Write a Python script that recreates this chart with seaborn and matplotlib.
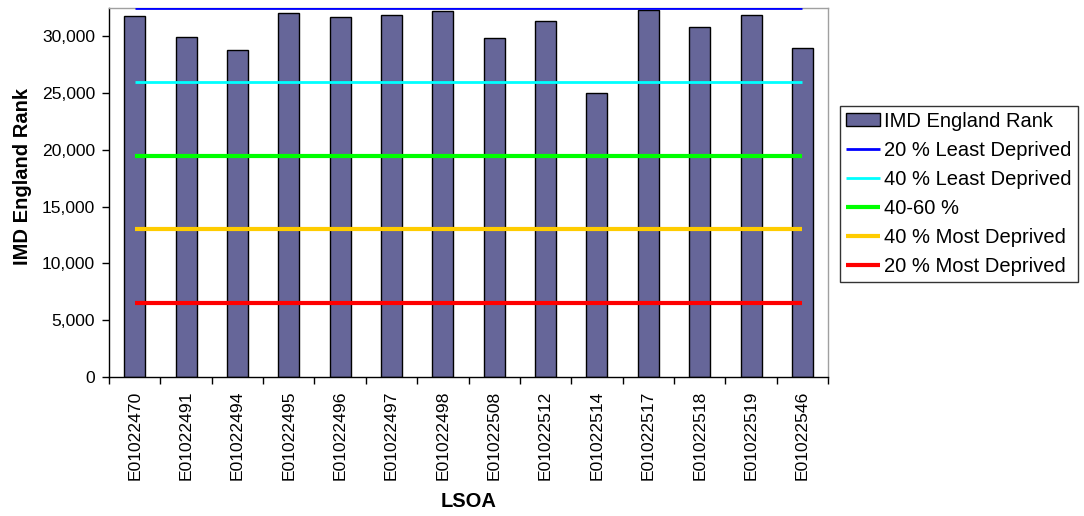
import matplotlib
matplotlib.use("Agg")
import matplotlib.pyplot as plt
import seaborn as sns
import numpy as np
import pandas as pd
from matplotlib.ticker import FuncFormatter, FixedLocator

# ---- data ----
lsoa = ["E01022470", "E01022491", "E01022494", "E01022495", "E01022496",
        "E01022497", "E01022498", "E01022508", "E01022512", "E01022514",
        "E01022517", "E01022518", "E01022519", "E01022546"]
imd_rank = [31760, 29910, 28770, 32030, 31650, 31850, 32200,
            29820, 31360, 25040, 32330, 30770, 31850, 28980]
threshold_labels = ["20 % Least Deprived", "40 % Least Deprived", "40-60 %",
                    "40 % Most Deprived", "20 % Most Deprived"]
threshold_values = [32482, 25986, 19489, 12993, 6496]
threshold_colors = ["#0000FF", "#00FFFF", "#00FF00", "#FFCC00", "#FF0000"]
threshold_widths = [2.0, 2.0, 3.0, 3.0, 3.0]

sns.set_theme(style="white")
plt.rcParams["font.family"] = ["Liberation Sans", "DejaVu Sans"]
plt.rcParams["text.color"] = "black"
plt.rcParams["axes.labelcolor"] = "black"
plt.rcParams["xtick.color"] = "black"
plt.rcParams["ytick.color"] = "black"

fig = plt.figure(figsize=(10.84, 5.16), dpi=100)
ax = fig.add_axes([0.1006, 0.2694, 0.6633, 0.7151])

df = pd.DataFrame({"LSOA": lsoa, "Rank": imd_rank})
sns.barplot(data=df, x="LSOA", y="Rank", color="#666699", saturation=1,
            width=0.41, edgecolor="black", linewidth=1.0, ax=ax,
            label="IMD England Rank", zorder=2, legend=False)

pos = np.arange(len(lsoa))
for lab, val, col, lw in zip(threshold_labels, threshold_values,
                             threshold_colors, threshold_widths):
    ax.plot(pos, [val] * len(lsoa), color=col, lw=lw, label=lab, zorder=3,
            solid_capstyle="butt")

ax.set_xlim(-0.5, len(lsoa) - 0.5)
ax.set_ylim(0, 32482)
ax.set_yticks([0, 5000, 10000, 15000, 20000, 25000, 30000])
ax.yaxis.set_major_formatter(FuncFormatter(lambda v, p: f"{int(v):,}"))

ax.set_xticks(pos)
ax.set_xticklabels(lsoa, rotation=90, fontsize=12.6)
ax.tick_params(axis="x", which="major", length=0, pad=9.7)
ax.xaxis.set_minor_locator(FixedLocator(np.arange(-0.5, len(lsoa), 1.0)))
ax.tick_params(axis="x", which="minor", length=5, width=1, color="black",
               direction="out", bottom=True)
ax.tick_params(axis="y", length=5, width=1, color="black", direction="out",
               left=True, labelsize=12.6, pad=5)

for s in ["left", "bottom"]:
    ax.spines[s].set_color("black")
    ax.spines[s].set_linewidth(1.0)
for s in ["top", "right"]:
    ax.spines[s].set_color("#A0A0A0")
    ax.spines[s].set_linewidth(1.0)

ax.set_ylabel("IMD England Rank", fontsize=14.5, fontweight="bold")
ax.yaxis.set_label_coords(-0.107, 0.542)
ax.set_xlabel("LSOA", fontsize=14.5, fontweight="bold", labelpad=9)

handles, labels = ax.get_legend_handles_labels()
bar_idx = labels.index("IMD England Rank")
order = [bar_idx] + [i for i in range(len(labels)) if i != bar_idx]
handles = [handles[i] for i in order]
labels = [labels[i] for i in order]
leg = fig.legend(handles, labels, loc="center left",
                 bbox_to_anchor=(0.775, 0.624), fontsize=14.5, frameon=True,
                 fancybox=False, edgecolor="black", handlelength=1.7,
                 handleheight=0.6, handletextpad=0.2, labelspacing=0.5,
                 borderpad=0.3, borderaxespad=0)
leg.get_frame().set_linewidth(1.0)

fig.savefig("out.png", dpi=100)
